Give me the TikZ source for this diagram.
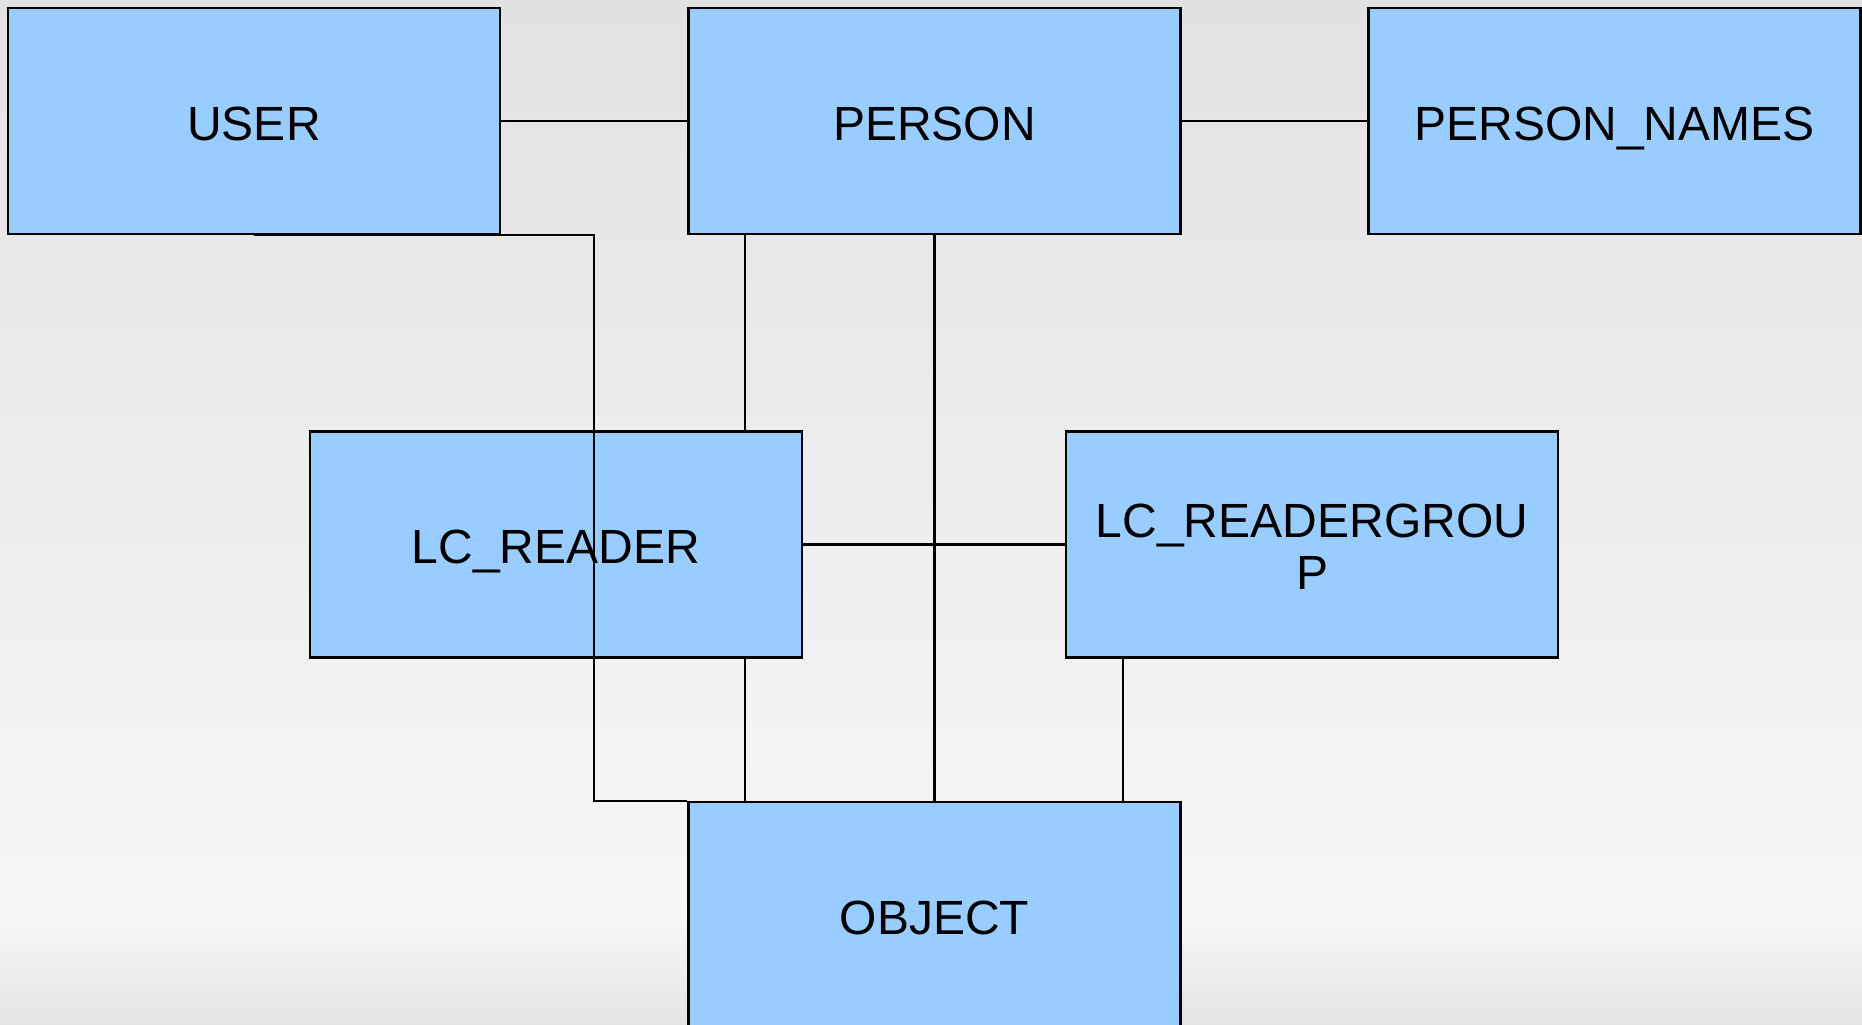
\documentclass[tikz,border=0pt]{standalone}
\usepackage{fontspec}
\setmainfont{Liberation Sans}
\definecolor{boxfill}{RGB}{153,204,255}
\definecolor{bgtop}{RGB}{226,226,226}
\definecolor{bgmid}{RGB}{247,247,247}
\definecolor{bgbot}{RGB}{228,228,228}
\tikzset{
  entity/.style={draw=black, line width=0.6pt, fill=boxfill, minimum width=4.92cm,
    minimum height=2.26cm, inner sep=0pt, align=center,
    text height=11pt, text depth=0pt,
    font=\fontsize{13.66}{14.8}\selectfont},
  twoline/.style={text height=25.4pt, text depth=0pt},
  link/.style={draw=black, line width=0.6pt}
}
\begin{document}
\begin{tikzpicture}
\useasboundingbox (0,0) rectangle (18.62,-10.25);
\clip (0,0) rectangle (18.62,-10.25);
\shade[top color=bgtop, bottom color=bgmid] (0,0) rectangle (18.62,-9.2);
\shade[top color=bgmid, bottom color=bgbot] (0,-9.2) rectangle (18.62,-10.25);

\coordinate (ux) at (5.94,0);
\coordinate (rx) at (7.45,0);
\coordinate (gx) at (11.23,0);

\node[entity] (user) at (2.54,-1.21) {USER};
\node[entity] (person) at (9.345,-1.21) {PERSON};
\node[entity] (names) at (16.145,-1.21) {PERSON\_NAMES};
\node[entity] (reader) at (5.56,-5.445) {LC\_READER};
\node[entity, twoline] (group) at (13.12,-5.445) {LC\_READERGROU\\P};
\node[entity] (object) at (9.345,-9.15) {OBJECT};

\draw[link] (user.east) -- (person.west);
\draw[link] (person.east) -- (names.west);
\draw[link] (user.south) -- (user.south -| ux) |- (object.north west);
\draw[link] (person.south -| rx) -- (reader.north -| rx);
\draw[link] (person.south) -- (object.north);
\draw[link] (reader.east) -- (group.west);
\draw[link] (reader.south -| rx) -- (object.north -| rx);
\draw[link] (group.south -| gx) -- (object.north -| gx);
\end{tikzpicture}
\end{document}
